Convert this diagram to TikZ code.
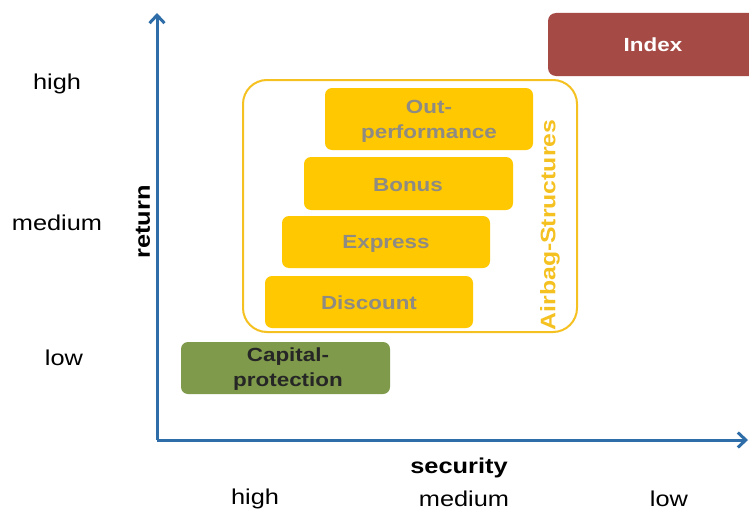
\documentclass[tikz,border=0pt]{standalone}
\usepackage{fontspec}
\setmainfont[FakeStretch=1.18]{Liberation Sans}
\usetikzlibrary{arrows.meta}
\definecolor{axisblue}{HTML}{2E6DA8}
\definecolor{boxyellow}{HTML}{FFC800}
\definecolor{lineyellow}{HTML}{F5C120}
\definecolor{boxred}{HTML}{A64A45}
\definecolor{boxgreen}{HTML}{7E9A4A}
\definecolor{txtgray}{HTML}{8E8A84}
\begin{document}
\begin{tikzpicture}[x=1pt,y=-1pt,
  axis/.style={draw=axisblue,line width=3pt,-{Straight Barb[length=8pt,width=15pt,line width=3pt]}},
  lbl/.style={font=\fontsize{21.5}{23}\selectfont,text=black},
  axlbl/.style={font=\fontsize{21.5}{23}\selectfont\bfseries,text=black},
  prod/.style={rounded corners=7pt,fill=boxyellow,draw=none},
  prodtxt/.style={font=\fontsize{19}{25}\selectfont\bfseries,text=txtgray,align=center},
]
\useasboundingbox (0,0) rectangle (749,511);
\fill[white] (0,0) rectangle (749,511);
% axes
\coordinate (o) at (157,440);
\coordinate (ytop) at (157,13);
\coordinate (xend) at (748,440);
\draw[axis] (o) -- (ytop);
\draw[axis] (o) -- (xend);
% axis labels
\node[lbl] (rh) at (57,84) {high};
\node[lbl] (rm) at (57,223) {medium};
\node[lbl] (rl) at (64,358) {low};
\node[axlbl,rotate=90] (ret) at (143,222) {return};
\node[axlbl] (sec) at (459,468) {security};
\node[lbl] (sh) at (255,499) {high};
\node[lbl] (sm) at (464,499) {medium};
\node[lbl] (sl) at (669,499) {low};
% index
\fill[boxred,rounded corners=8pt] (548,13) rectangle (760,76);
\node[font=\fontsize{19}{20}\selectfont\bfseries,text=white] (idx) at (653,45) {Index};
% airbag outline
\draw[lineyellow,line width=2pt,rounded corners=24pt] (243,80) rectangle (577,332);
\node[font=\fontsize{21}{22}\selectfont\bfseries,text=lineyellow,rotate=90] (air) at (550,225) {Airbag-Structures};
% products
\fill[prod] (325,88) rectangle (533,150);
\node[prodtxt] (out) at (429,121) {Out-\\performance};
\fill[prod] (304,157) rectangle (513,210);
\node[prodtxt] (bon) at (408,185) {Bonus};
\fill[prod] (282,216) rectangle (490,268);
\node[prodtxt] (exp) at (386,244) {Express};
\fill[prod] (265,276) rectangle (473,328);
\node[prodtxt] (dis) at (369,303) {Discount};
% capital protection
\fill[boxgreen,rounded corners=7pt] (181,342) rectangle (390,394);
\node[prodtxt,text=black!85] (cap) at (288,369) {Capital-\\protection};
\end{tikzpicture}
\end{document}
